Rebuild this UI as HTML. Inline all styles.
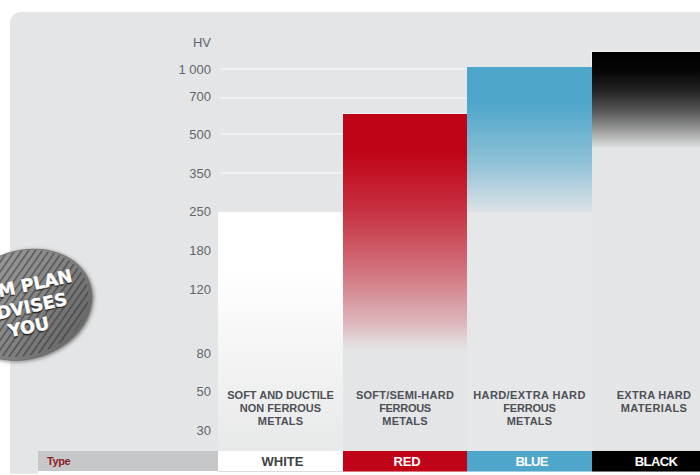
<!DOCTYPE html>
<html>
<head>
<meta charset="utf-8">
<title>Hardness chart</title>
<style>
html,body{margin:0;padding:0;background:#fff;}
body{width:700px;height:475px;overflow:hidden;font-family:"Liberation Sans",sans-serif;}
#wrap{position:absolute;left:0;top:0;width:700px;height:475px;overflow:hidden;background:#fff;}
#panel{position:absolute;left:10px;top:12px;width:700px;height:462px;background:#e4e5e6;border-top-left-radius:11px;}
.yl{position:absolute;left:150px;width:61px;text-align:right;font-size:13px;line-height:14px;color:#62656b;}
.gl{position:absolute;left:220px;height:2px;background:linear-gradient(to bottom,rgba(255,255,255,.62),rgba(255,255,255,.3));}
.bar{position:absolute;}
#bw{left:218px;top:212px;width:125px;height:239px;background:linear-gradient(to bottom,#fff 0%,#fff 24%,rgba(255,255,255,.7) 50%,rgba(255,255,255,.38) 78%,rgba(255,255,255,.15) 100%);}
#br{left:343px;top:114px;width:124px;height:237px;background:linear-gradient(to bottom,#c00418 0%,#c00418 16%,rgba(192,4,24,.8) 41%,rgba(192,4,24,.52) 65%,rgba(192,4,24,.21) 88%,rgba(192,4,24,.13) 92%,rgba(192,4,24,.045) 96.6%,rgba(192,4,24,.01) 100%);}
#bb{left:467px;top:67px;width:125px;height:145px;background:linear-gradient(to bottom,#4fa6cb 0%,#4fa6cb 25%,rgba(79,166,203,.57) 66%,rgba(79,166,203,.26) 86%,rgba(79,166,203,.06) 100%);}
#bk{left:592px;top:52px;width:108px;height:97px;background:linear-gradient(to bottom,#000 0%,rgba(0,0,0,.97) 21%,rgba(0,0,0,.85) 39%,rgba(0,0,0,.63) 60%,rgba(0,0,0,.4) 76%,rgba(0,0,0,.18) 89%,rgba(0,0,0,0) 100%);}
.lab{position:absolute;top:389px;text-align:center;font-weight:bold;font-size:11px;line-height:13px;color:#4d5056;}
.lab span{display:block;white-space:nowrap;}
.cell{position:absolute;top:451px;height:20px;line-height:21px;text-align:center;font-weight:bold;font-size:13px;color:#fff;box-sizing:border-box;padding-left:4px;}
.bt{position:absolute;left:0;top:0;transform-origin:0 0;font-family:"DejaVu Sans","Liberation Sans",sans-serif;font-weight:bold;font-size:17.5px;line-height:17.5px;letter-spacing:0;color:#fff;-webkit-text-stroke:0.5px #fff;text-shadow:-0.5px 1.5px 1px #222,0 0 2px rgba(0,0,0,.45);white-space:nowrap;}
#under{position:absolute;left:38px;top:471px;width:662px;height:4px;background:#fff;}
</style>
</head>
<body>
<div id="wrap">
<div id="panel"></div>
<div class="yl" style="top:36px">HV</div>
<div class="yl" style="top:63px">1 000</div>
<div class="yl" style="top:90px">700</div>
<div class="yl" style="top:128px">500</div>
<div class="yl" style="top:167px">350</div>
<div class="yl" style="top:205px">250</div>
<div class="yl" style="top:244px">180</div>
<div class="yl" style="top:283px">120</div>
<div class="yl" style="top:347px">80</div>
<div class="yl" style="top:385px">50</div>
<div class="yl" style="top:424px">30</div>
<div class="gl" style="top:68px;width:247px"></div>
<div class="gl" style="top:97px;width:247px"></div>
<div class="gl" style="top:133px;width:123px"></div>
<div class="gl" style="top:172px;width:123px"></div>
<div class="bar" id="bw"></div>
<div class="bar" style="left:342px;top:113px;width:125px;height:1px;background:rgba(255,255,255,.5)"></div>
<div class="bar" style="left:342px;top:113px;width:1px;height:99px;background:rgba(255,255,255,.5)"></div>
<div class="bar" style="left:591px;top:51px;width:109px;height:1px;background:rgba(255,255,255,.6)"></div>
<div class="bar" style="left:591px;top:51px;width:1px;height:16px;background:rgba(255,255,255,.6)"></div>
<div class="bar" id="br"></div>
<div class="bar" id="bb"></div>
<div class="bar" style="left:467px;top:212px;width:125px;height:239px;background:rgba(255,255,255,.1)"></div>
<div class="bar" id="bk"></div>
<div class="lab" style="left:218px;width:125px"><span id="l00">SOFT AND DUCTILE</span><span id="l01">NON FERROUS</span><span id="l02" style="letter-spacing:0.15px">METALS</span></div>
<div class="lab" style="left:343px;width:124px"><span id="l10" style="letter-spacing:0.25px">SOFT/SEMI-HARD</span><span id="l11" style="letter-spacing:-0.3px">FERROUS</span><span id="l12" style="letter-spacing:0.15px">METALS</span></div>
<div class="lab" style="left:467px;width:125px"><span id="l20" style="letter-spacing:0.4px">HARD/EXTRA HARD</span><span id="l21" style="letter-spacing:-0.2px">FERROUS</span><span id="l22" style="letter-spacing:0.2px">METALS</span></div>
<div class="lab" style="left:592px;width:124px"><span id="l30" style="letter-spacing:0.3px">EXTRA HARD</span><span id="l31" style="letter-spacing:0.35px">MATERIALS</span></div>
<div id="under"></div>
<div class="cell" style="left:38px;width:180px;background:#c6c7c9;color:#8c1c22;text-align:left;font-size:11px;letter-spacing:-0.4px;padding-left:9px;">Type</div>
<div class="cell" style="left:218px;width:125px;background:#fff;color:#3f4247;box-shadow:0 1px 0 #dcdcdd;">WHITE</div>
<div class="cell" style="left:343px;width:124px;background:#c00418;letter-spacing:-0.2px;box-shadow:0 1px 0 rgba(192,4,24,.55);">RED</div>
<div class="cell" style="left:467px;width:125px;background:#4fa6cb;letter-spacing:-0.8px;box-shadow:0 1px 0 rgba(79,166,203,.55);">BLUE</div>
<div class="cell" style="left:592px;width:124px;background:#000;letter-spacing:-0.6px;box-shadow:0 1px 0 rgba(0,0,0,.55);">BLACK</div>
<svg id="badge" width="120" height="160" viewBox="0 230 120 160" style="position:absolute;left:0;top:230px;overflow:hidden">
<defs>
<pattern id="st" width="5.6" height="10" patternUnits="userSpaceOnUse" patternTransform="rotate(53)"><rect x="0" y="0" width="1.5" height="10" fill="#2a2a2a" fill-opacity=".55"/></pattern>
<linearGradient id="bg1" x1="0" y1="0" x2="1" y2="1"><stop offset="0" stop-color="#a0a0a0"/><stop offset=".45" stop-color="#8c8c8c"/><stop offset="1" stop-color="#5c5c5c"/></linearGradient>
<filter id="blur" x="-20%" y="-20%" width="140%" height="140%"><feGaussianBlur stdDeviation="2"/></filter>
</defs>
<g transform="rotate(-18 24.6 304.7)">
<ellipse cx="24.6" cy="304.7" rx="68.5" ry="54" fill="#000" fill-opacity=".55" filter="url(#blur)" transform="translate(1 1.5)"/>
<ellipse cx="24.6" cy="304.7" rx="69" ry="54.5" fill="#6e6e6e"/>
<ellipse cx="24.6" cy="304.7" rx="68.2" ry="53.7" fill="url(#bg1)"/>
</g>
<ellipse cx="23.8" cy="303.2" rx="66.5" ry="52" fill="url(#st)" transform="rotate(-18 24.6 304.7)"/>
</svg>
<div class="bt" style="transform:translate(73.9px,285px) rotate(-12deg) translate(-100%,-100%)">LAM PLAN</div>
<div class="bt" style="transform:translate(68.8px,308px) rotate(-12deg) translate(-100%,-100%)">ADVISES</div>
<div class="bt" style="transform:translate(50.8px,332.2px) rotate(-12deg) translate(-100%,-100%)">YOU</div>
</div>
</body>
</html>
